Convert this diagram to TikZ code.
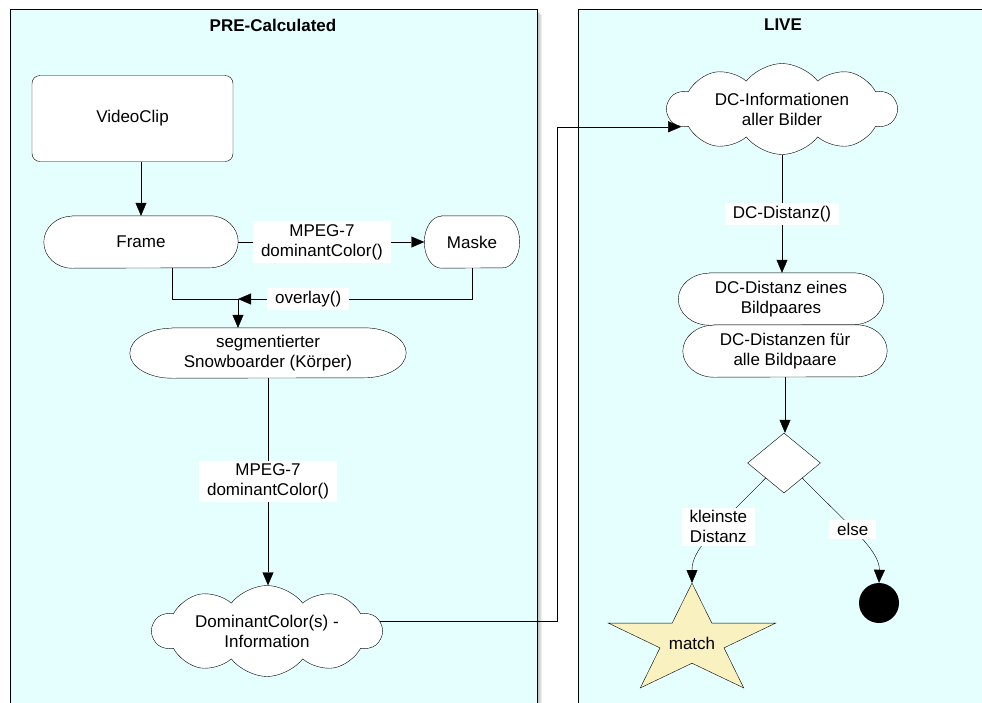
\documentclass[tikz,border=0pt]{standalone}
\usepackage{fontspec}
\setmainfont{Liberation Sans}
\usetikzlibrary{arrows.meta,shapes.geometric,shapes.symbols}
\pgfdeclarelayer{bg}
\pgfsetlayers{bg,main}
\definecolor{panelcyan}{RGB}{229,255,255}
\definecolor{starfill}{RGB}{250,241,192}
\begin{document}
\begin{tikzpicture}[x=1pt,y=-1pt,
  font=\fontsize{17}{20}\selectfont,
  line width=1.1pt,
  panel/.style={draw=black, line width=0.8pt, fill=panelcyan},
  panelshade/.style={fill=black!55, fill opacity=0.12, rounded corners=2pt},
  title/.style={font=\fontsize{17}{20}\selectfont\bfseries},
  clipbox/.style={draw=black, fill=white, rounded corners=8pt, minimum width=201pt, minimum height=86pt},
  pill/.style={rectangle, minimum height=52pt, align=center},
  pillline/.style={draw, fill=white},
  puff/.style={draw, fill=white, cloud, cloud puffs=10, cloud puff arc=105, cloud ignores aspect,
    minimum width=229pt, minimum height=91pt, align=center, inner sep=0pt},
  decide/.style={draw, fill=white, diamond, minimum width=73pt, minimum height=60pt, inner sep=0pt},
  halt/.style={circle, fill=black, minimum size=40pt, inner sep=0pt},
  lbl/.style={fill=white, align=center, inner xsep=8pt, inner ysep=3pt},
  arr/.style={-{Triangle[length=13pt,width=11pt]}},
  matchstar/.style={draw, fill=starfill, line join=miter}
]
\useasboundingbox (0,0) rectangle (982,702);

% swimlanes with a soft drop shade
\begin{pgfonlayer}{bg}
\foreach \d in {1,2,3,4,5}{
  \path[panelshade] (10+\d,9+\d) rectangle (537+\d,730);
  \path[panelshade] (578+\d,9+\d) rectangle (1010,730);
}
\path[panel] (10,9) rectangle (537,730);
\path[panel] (578,9) rectangle (1010,730);
\end{pgfonlayer}
\node[title] (pretitle) at (273,25) {PRE-Calculated};
\node[title] (livetitle) at (783,25) {LIVE};

% pre-calculated lane
\node[clipbox] (videoclip) at (132.5,118.5) {VideoClip};
\node[pill, minimum width=194pt] (frame) at (141,242) {Frame};
\node[pill, minimum width=95pt] (maske) at (472,242) {Maske};
\node[pill, minimum width=276pt, minimum height=50pt] (seg) at (268,353) {segmentierter\\Snowboarder (Körper)};
\node[puff] (dcol) at (267,631) {DominantColor(s) -\\Information};
\coordinate (ovl) at (238,299);
\coordinate (jA) at (557,126);

% live lane
\node[puff] (dcinfo) at (782,109) {DC-Informationen\\aller Bilder};
\node[pill, minimum width=205pt] (dcdist) at (781,299) {DC-Distanz eines\\Bildpaares};
\node[pill, minimum width=204pt] (dcall) at (785,351) {DC-Distanzen für\\alle Bildpaare};
\node[decide] (dia) at (784,463) {};
\node[halt] (stop) at (879,603) {};
\begin{scope}[shift={(692,641)}, xscale=1.517]
  \draw[matchstar] (270:58) -- (306:22.2) -- (342:58) -- (18:22.2) -- (54:58) -- (90:22.2)
    -- (126:58) -- (162:22.2) -- (198:58) -- (234:22.2) -- cycle;
\end{scope}
\node (match) at (692,643) {match};
\coordinate (startop) at (692,583);

% pill outlines with elliptic ends, behind their labels
\begin{pgfonlayer}{bg}
\foreach \n/\r/\h in {frame/28/26, maske/17/26, seg/42/25, dcdist/31/26, dcall/31/26}{
  \draw[pillline] ([xshift=\r pt]\n.north west) -- ([xshift=-\r pt]\n.north east)
    arc[start angle=90, end angle=-90, x radius=\r pt, y radius=\h pt]
    -- ([xshift=\r pt]\n.south west)
    arc[start angle=270, end angle=90, x radius=\r pt, y radius=\h pt] -- cycle;
}
\end{pgfonlayer}

% connectors, pre-calculated
\draw[arr] (videoclip.south -| frame.north) -- (frame.north);
\draw[arr] (frame.east) -- node[lbl, pos=0.45] {MPEG-7\\dominantColor()} (maske.west);
\draw ([xshift=31pt]frame.south) |- (ovl);
\draw[arr] (maske.south) |- node[lbl, pos=0.85] {overlay()} (ovl);
\draw[arr] (ovl) -- (ovl |- seg.north);
\draw[arr] (seg.south) -- node[lbl] {MPEG-7\\dominantColor()} (seg.south |- dcol.north);
\draw[arr] (dcol.5) -| (jA |- dcinfo.190) -- (dcinfo.190);

% connectors, live
\draw[arr] (dcinfo.south) -- node[lbl] {DC-Distanz()} (dcinfo.south |- dcdist.north);
\draw[arr] (dcall.south) -- (dcall.south |- dia.north);
\draw[arr] (dia.south west) .. controls (712,532) and (692,550) .. node[lbl, pos=0.38] {kleinste\\Distanz} (startop);
\draw[arr] (dia.south east) .. controls (845,522) and (880,550) .. node[lbl, pos=0.45] {else} (stop.north);
\end{tikzpicture}
\end{document}
